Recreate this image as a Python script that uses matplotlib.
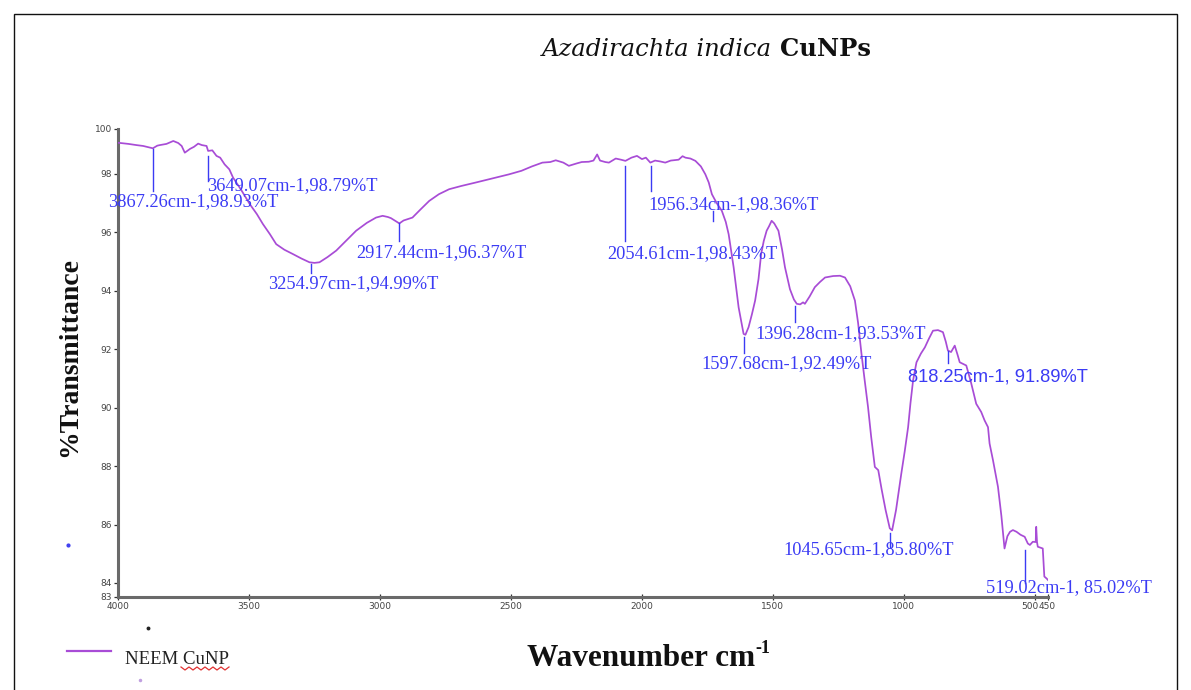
import numpy as np
import matplotlib
matplotlib.use("Agg")
import matplotlib.pyplot as plt
import matplotlib.transforms as mtransforms
from matplotlib.lines import Line2D
from matplotlib.patches import Rectangle

# ---------------- data ----------------
wavenumber = [4000, 3960, 3930, 3904, 3880, 3867, 3850, 3840, 3815, 3800, 3789, 3770,
              3757, 3745, 3725, 3710, 3694, 3680, 3662, 3656, 3640, 3624, 3610, 3593,
              3575, 3561, 3530, 3497, 3470, 3447, 3420, 3396, 3365, 3332, 3300, 3269,
              3250, 3231, 3200, 3167, 3130, 3091, 3050, 3015, 2990, 2970, 2958, 2940,
              2926, 2910, 2876, 2845, 2812, 2775, 2736, 2690, 2634, 2580, 2507, 2460,
              2420, 2380, 2350, 2329, 2300, 2279, 2250, 2230, 2203, 2185, 2171, 2160,
              2140, 2126, 2100, 2080, 2063, 2040, 2019, 2000, 1985, 1968, 1950, 1930,
              1911, 1890, 1860, 1845, 1834, 1815, 1796, 1775, 1758, 1745, 1733, 1715,
              1695, 1680, 1669, 1650, 1631, 1612, 1605, 1593, 1580, 1568, 1555, 1545,
              1535, 1524, 1515, 1505, 1495, 1479, 1465, 1454, 1435, 1420, 1409, 1396,
              1385, 1378, 1360, 1340, 1320, 1301, 1270, 1244, 1225, 1205, 1187, 1175,
              1162, 1150, 1137, 1125, 1111, 1098, 1085, 1070, 1054, 1045, 1030, 1010,
              997, 984, 975, 965, 952, 935, 920, 905, 889, 870, 851, 840, 832, 820,
              806, 795, 787, 762, 745, 724, 705, 692, 679, 673, 660, 641, 628, 616,
              605, 595, 584, 570, 555, 539, 527, 519, 508, 497, 495, 492, 489, 470,
              464, 455, 450]
transmittance = [99.06, 99.02, 98.98, 98.95, 98.90, 98.87, 98.96, 98.98, 99.02, 99.08, 99.12, 99.05,
                 98.95, 98.72, 98.85, 98.92, 99.03, 98.98, 98.95, 98.78, 98.80, 98.61, 98.55, 98.32,
                 98.15, 97.87, 97.45, 96.96, 96.62, 96.28, 95.93, 95.59, 95.40, 95.25, 95.10, 94.97,
                 94.95, 94.97, 95.15, 95.37, 95.70, 96.05, 96.32, 96.50, 96.56, 96.52, 96.48, 96.38,
                 96.30, 96.40, 96.50, 96.78, 97.07, 97.30, 97.47, 97.58, 97.70, 97.82, 97.98, 98.10,
                 98.25, 98.38, 98.40, 98.46, 98.38, 98.27, 98.35, 98.40, 98.41, 98.45, 98.66, 98.45,
                 98.40, 98.38, 98.52, 98.48, 98.44, 98.55, 98.61, 98.50, 98.55, 98.38, 98.45, 98.42,
                 98.38, 98.45, 98.48, 98.60, 98.55, 98.52, 98.44, 98.25, 97.98, 97.70, 97.30, 97.00,
                 96.73, 96.35, 95.93, 94.80, 93.43, 92.52, 92.49, 92.75, 93.20, 93.66, 94.40, 95.25,
                 95.70, 96.05, 96.20, 96.39, 96.30, 96.05, 95.40, 94.80, 94.05, 93.70, 93.55, 93.53,
                 93.60, 93.55, 93.80, 94.12, 94.30, 94.45, 94.50, 94.51, 94.45, 94.15, 93.66, 92.90,
                 91.84, 90.95, 90.02, 89.00, 87.97, 87.86, 87.20, 86.50, 85.87, 85.80, 86.50, 87.74,
                 88.50, 89.33, 90.15, 90.93, 91.55, 91.85, 92.06, 92.35, 92.63, 92.65, 92.58, 92.25, 91.95, 91.90,
                 92.12, 91.80, 91.55, 91.44, 90.90, 90.13, 89.85, 89.56, 89.33, 88.77, 88.20, 87.29, 86.30, 85.18,
                 85.60, 85.75, 85.81, 85.75, 85.65, 85.58, 85.35, 85.30, 85.41, 85.40, 85.92, 85.40, 85.24, 85.18,
                 84.22, 84.15, 84.10]

peak_labels = ["3867.26cm-1,98.93%T", "3649.07cm-1,98.79%T", "3254.97cm-1,94.99%T",
               "2917.44cm-1,96.37%T", "2054.61cm-1,98.43%T", "1956.34cm-1,98.36%T",
               "", "1597.68cm-1,92.49%T", "1396.28cm-1,93.53%T",
               "818.25cm-1, 91.89%T", "1045.65cm-1,85.80%T", "519.02cm-1, 85.02%T"]

xtick_values = [4000, 3500, 3000, 2500, 2000, 1500, 1000, 500, 450]
xtick_labels = ["4000", "3500", "3000", "2500", "2000", "1500", "1000", "500", "450"]
ytick_labels = ["83", "84", "86", "88", "90", "92", "94", "96", "98", "100"]

# ---------------- layout (marker line x, line top, line bottom, text left x, text y, font) ----------------
ann_layout = [
    (3867, 98.85, 97.41, 4038, 97.06, "Liberation Serif"),
    (3657, 98.61, 97.75, 3661, 97.59, "Liberation Serif"),
    (3265, 94.92, 94.61, 3429, 94.24, "Liberation Serif"),
    (2926, 96.32, 95.71, 3090, 95.30, "Liberation Serif"),
    (2063, 98.27, 95.71, 2131, 95.26, "Liberation Serif"),
    (1964, 98.27, 97.41, 1977, 96.94, "Liberation Serif"),
    (1727, 96.73, 96.39, 1727, 96.5, "Liberation Serif"),
    (1612, 92.43, 91.88, 1772, 91.51, "Liberation Serif"),
    (1414, 93.49, 92.94, 1566, 92.53, "Liberation Serif"),
    (832, 91.95, 91.54, 984, 91.06, "Liberation Sans"),
    (1054, 85.71, 85.23, 1460, 85.13, "Liberation Serif"),
    (536, 85.13, 84.00, 688, 83.83, "Liberation Serif"),
]

W, H = 1191, 690
fig = plt.figure(figsize=(W / 100, H / 100), dpi=100)
fig.patch.set_facecolor("white")

def fx(px):
    return px / W

def fy(py):
    return 1 - py / H

ax = fig.add_axes([fx(118), fy(597), fx(1048) - fx(118), fy(129) - fy(597)])
ax.set_facecolor("white")

curve_color = "#a84cd6"
ann_color = "#3b3bf4"

ax.plot(wavenumber, transmittance, color=curve_color, lw=1.25, zorder=3)

y_lo, y_hi = 83.52, 99.53
ax.set_xlim(4000, 450)
ax.set_ylim(y_lo, y_hi)

ax.set_xticks(xtick_values)
ax.set_xticklabels(xtick_labels)
ax.set_yticks([y_lo, 84, 86, 88, 90, 92, 94, 96, 98, y_hi])
ax.set_yticklabels(ytick_labels)

for side in ["top", "right"]:
    ax.spines[side].set_visible(False)
for side in ["left", "bottom"]:
    ax.spines[side].set_color("#6a6a6a")
    ax.spines[side].set_linewidth(2.2)

ax.tick_params(axis="both", labelsize=6.5, labelcolor="#444444", color="#333333",
               length=3, width=0.9, pad=1.5)
ax.tick_params(axis="x", direction="inout", length=4)
for lab in ax.get_xticklabels() + ax.get_yticklabels():
    lab.set_family("DejaVu Sans")

# nudge the two crowded end labels so they read "500450" like the original
xlabs = ax.get_xticklabels()
for lab, dx in ((xlabs[-2], -5), (xlabs[-1], -1)):
    lab.set_transform(lab.get_transform() +
                      mtransforms.ScaledTranslation(dx / 100, 0, fig.dpi_scale_trans))

# peak annotations
for text, (lx, ytop, ybot, tx, ty, fam) in zip(peak_labels, ann_layout):
    ax.plot([lx, lx], [ytop, ybot], color=ann_color, lw=1.0, zorder=4, clip_on=False)
    if text:
        ax.text(tx, ty, text, color=ann_color, fontsize=13.2, family=fam,
                ha="left", va="center", zorder=5, clip_on=False)

# title
t1 = fig.text(fx(542), fy(50), "Azadirachta indica ", family="DejaVu Serif",
              style="italic", fontsize=17.5, ha="left", va="center", color="#111111")
ax.annotate("CuNPs", xy=(1, 0), xycoords=t1, ha="left", va="bottom",
            family="DejaVu Serif", fontweight="bold", fontsize=17.5, color="#111111",
            annotation_clip=False)

# axis labels
fig.text(fx(70), fy(357), "%Transmittance", rotation=90, family="Liberation Serif",
         fontweight="bold", fontsize=20, ha="center", va="center", color="#111111")
xl = fig.text(fx(527), fy(658), "Wavenumber cm", family="Liberation Serif",
              fontweight="bold", fontsize=22.5, ha="left", va="center", color="#111111")
ax.annotate("-1", xy=(1, 0.55), xycoords=xl, ha="left", va="bottom",
            family="Liberation Serif", fontweight="bold", fontsize=13, color="#111111",
            annotation_clip=False)

# legend
fig.add_artist(Line2D([fx(67), fx(111)], [fy(651), fy(651)], color=curve_color, lw=1.6))
fig.text(fx(125), fy(660), "NEEM CuNP", family="Liberation Serif", fontsize=13.5,
         ha="left", va="center", color="#222222")
sq_x = [181, 185, 189, 193, 197, 201, 205, 209, 213, 217, 221, 225, 229]
sq_y = [667, 670, 667, 670, 667, 670, 667, 670, 667, 670, 667, 670, 667]
fig.add_artist(Line2D([fx(v) for v in sq_x], [fy(v) for v in sq_y], color="#e03030", lw=0.9))

# stray dots
fig.add_artist(Line2D([fx(68)], [fy(545)], marker="o", markersize=2, color="#4040f0", lw=0))
fig.add_artist(Line2D([fx(148)], [fy(628)], marker="o", markersize=1.8, color="#222222", lw=0))
fig.add_artist(Line2D([fx(140)], [fy(680)], marker="o", markersize=1.5, color="#c0a0e0", lw=0))

# frame
fig.add_artist(Rectangle((fx(14), -0.02), fx(1177) - fx(14), fy(14) + 0.02,
                         fill=False, edgecolor="#111111", lw=1.0))

fig.savefig("out.png", dpi=100, facecolor="white")
